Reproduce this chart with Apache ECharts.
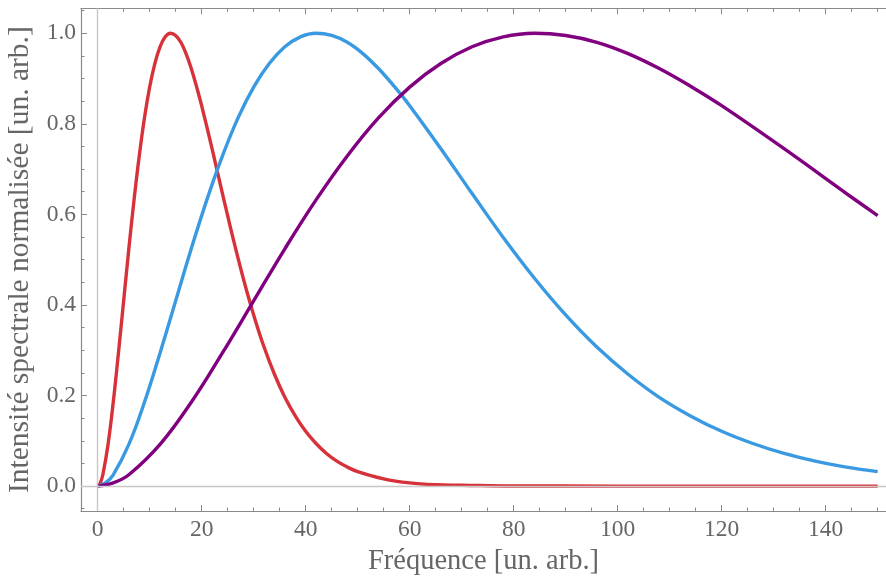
<!DOCTYPE html>
<html><head><meta charset="utf-8">
<script src="https://cdn.jsdelivr.net/npm/echarts@6/dist/echarts.min.js"></script>
<style>html,body{margin:0;padding:0;background:#fff}#c{width:886px;height:587px}</style>
</head><body><div id="c"></div>
<script>
const xTitle = 'Fréquence [un. arb.]';
const yTitle = 'Intensité spectrale normalisée [un. arb.]';

const redX = [0, 0.5, 1, 2, 3, 4, 5, 6, 7, 8, 9, 10, 11, 12, 13, 14, 15, 16, 17, 18, 19, 20, 22, 24, 26, 28, 30, 32, 34, 36, 38, 40, 42, 44, 46, 48, 50, 55, 60, 65, 70, 80, 100, 150];
const redY = [0, 0.007, 0.025, 0.092, 0.185, 0.294, 0.409, 0.524, 0.632, 0.729, 0.813, 0.881, 0.933, 0.970, 0.992, 1.000, 0.995, 0.980, 0.955, 0.922, 0.883, 0.840, 0.745, 0.646, 0.549, 0.459, 0.378, 0.307, 0.247, 0.196, 0.155, 0.121, 0.094, 0.072, 0.055, 0.042, 0.032, 0.016, 0.007, 0.003, 0.002, 0.0003, 0, 0];

const blueX = [0, 1.5, 3, 6, 9, 12, 15, 18, 21, 24, 27, 30, 33, 36, 39, 42, 45, 48, 51, 54, 57, 60, 66, 72, 78, 84, 90, 96, 102, 108, 114, 120, 126, 132, 138, 144, 150];
const blueY = [0, 0.007, 0.025, 0.092, 0.185, 0.294, 0.409, 0.524, 0.632, 0.729, 0.813, 0.881, 0.933, 0.970, 0.992, 1.000, 0.995, 0.980, 0.955, 0.922, 0.883, 0.840, 0.745, 0.646, 0.549, 0.459, 0.378, 0.307, 0.247, 0.196, 0.155, 0.121, 0.094, 0.072, 0.055, 0.042, 0.032];

const purpleX = [0, 3, 6, 12, 18, 24, 30, 36, 42, 48, 54, 60, 66, 72, 78, 84, 90, 96, 102, 108, 114, 120, 132, 144, 150];
const purpleY = [0, 0.007, 0.025, 0.092, 0.185, 0.294, 0.409, 0.524, 0.632, 0.729, 0.813, 0.881, 0.933, 0.970, 0.992, 1.000, 0.995, 0.980, 0.955, 0.922, 0.883, 0.840, 0.745, 0.646, 0.597];

const zip = (xs, ys) => xs.map((x, i) => [x, ys[i]]);

const frameColor = '#8a8a8a';
const textColor = '#666666';
const font = 'Liberation Serif';

function xAxisCfg(pos, labels) {
  return {
    type: 'value', position: pos, min: -3.2, max: 151.6,
    minInterval: 20, maxInterval: 20,
    axisLine: { show: true, onZero: false, lineStyle: { color: frameColor, width: 1.2 } },
    axisTick: { show: true, inside: true, length: 6, lineStyle: { color: frameColor, width: 1 } },
    minorTick: { show: true, splitNumber: 4, length: 3.5, lineStyle: { color: frameColor, width: 1 } },
    splitLine: { show: false },
    axisLabel: { show: labels, showMinLabel: false, showMaxLabel: false, margin: 7,
      color: textColor, fontFamily: font, fontSize: 23.5 },
    name: labels ? xTitle : '', nameLocation: 'middle', nameGap: 35,
    nameTextStyle: { color: textColor, fontFamily: font, fontSize: 28.5 }
  };
}

const option = {
  animation: false,
  backgroundColor: '#fff',
  grid: { left: 81, top: 8.3, right: 0, bottom: 76, containLabel: false, outerBoundsMode: 'none' },
  xAxis: [xAxisCfg('bottom', true), xAxisCfg('top', false)],
  yAxis: [{
    type: 'value', position: 'left', min: -0.055, max: 1.055,
    minInterval: 0.2, maxInterval: 0.2,
    axisLine: { show: true, onZero: false, lineStyle: { color: frameColor, width: 1.2 } },
    axisTick: { show: true, inside: true, length: 6, lineStyle: { color: frameColor, width: 1 } },
    minorTick: { show: true, splitNumber: 4, length: 3.5, lineStyle: { color: frameColor, width: 1 } },
    splitLine: { show: false },
    axisLabel: { showMinLabel: false, showMaxLabel: false, margin: 5,
      formatter: v => v.toFixed(1),
      color: textColor, fontFamily: font, fontSize: 23.5 },
    name: yTitle, nameLocation: 'middle', nameGap: 45,
    nameTextStyle: { color: textColor, fontFamily: font, fontSize: 29.5 }
  }],
  series: [
    { type: 'line', data: [[0, 0]], showSymbol: false, symbol: 'none', lineStyle: { width: 0 }, z: 1, silent: true,
      markLine: { silent: true, symbol: 'none', label: { show: false },
        lineStyle: { color: '#c8c8c8', width: 1.4, type: 'solid' },
        data: [{ xAxis: 0 }, { yAxis: 0 }] } },
    { type: 'line', data: zip(redX, redY), smooth: 0.4, showSymbol: false, symbol: 'none', z: 3,
      lineStyle: { color: '#d7323a', width: 3.4 } },
    { type: 'line', data: zip(blueX, blueY), smooth: 0.4, showSymbol: false, symbol: 'none', z: 3,
      lineStyle: { color: '#3a9ae1', width: 3.4 } },
    { type: 'line', data: zip(purpleX, purpleY), smooth: 0.4, showSymbol: false, symbol: 'none', z: 3,
      lineStyle: { color: '#800080', width: 3.4 } }
  ]
};
const chart = echarts.init(document.getElementById('c'), null, { renderer: 'canvas' });
chart.setOption(option);
</script></body></html>
